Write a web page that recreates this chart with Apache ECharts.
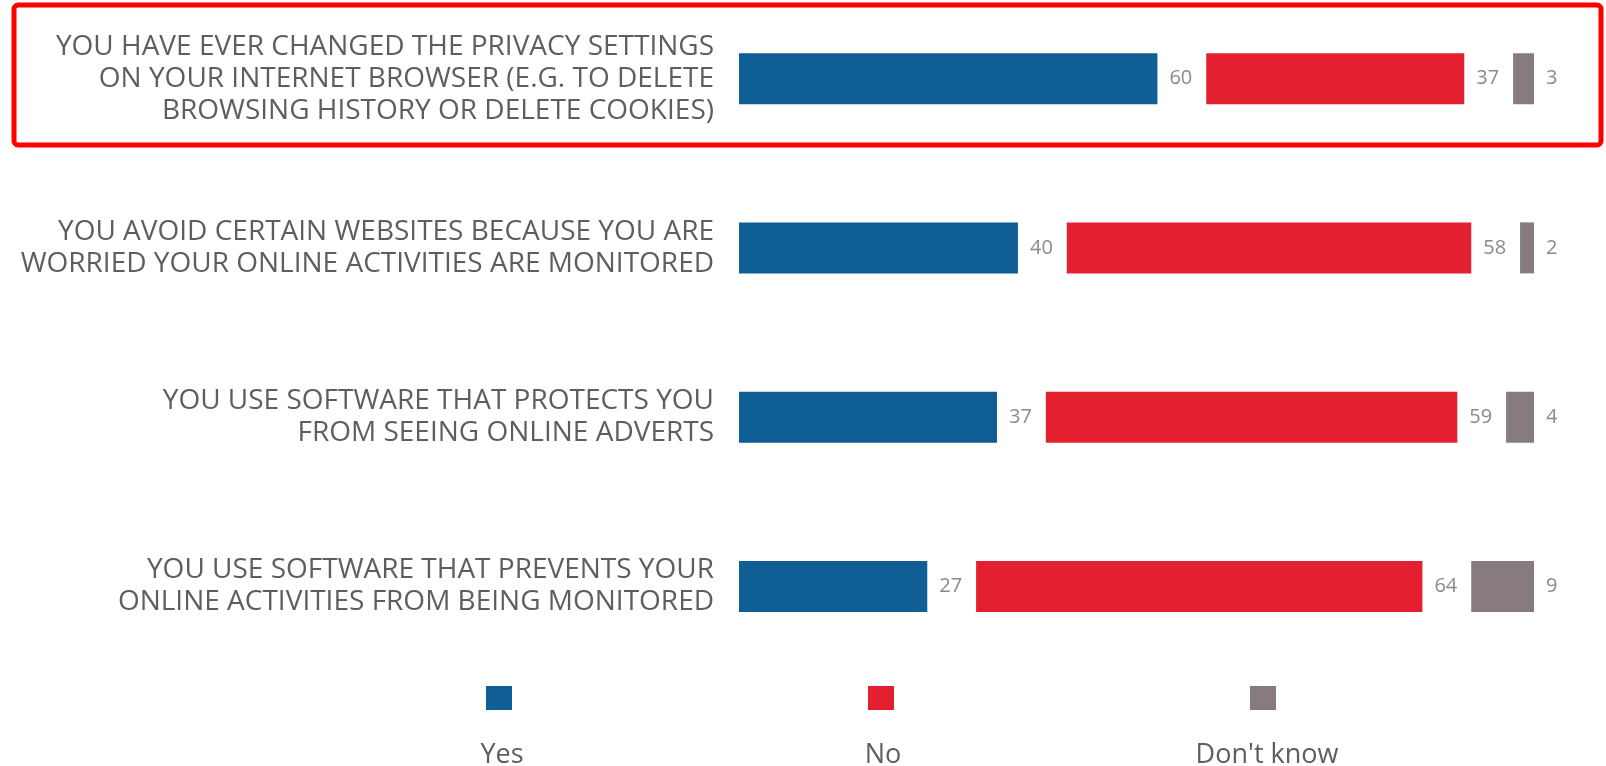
<!DOCTYPE html>
<html>
<head>
<meta charset="utf-8">
<script src="https://cdn.jsdelivr.net/npm/echarts@6/dist/echarts.min.js"></script>
<style>
    html, body { margin: 0; padding: 0; background: #fff; overflow: hidden; }
    /* shifted up a little so the first row can sit higher than the grid allows */
    #chart { position: absolute; left: 0; top: -6px; width: 1606px; height: 772px; }
</style>
</head>
<body>
<div id="chart"></div>
<script>
const categories = [
    'YOU HAVE EVER CHANGED THE PRIVACY SETTINGS\nON YOUR INTERNET BROWSER (E.G. TO DELETE\nBROWSING HISTORY OR DELETE COOKIES)',
    'YOU AVOID CERTAIN WEBSITES BECAUSE YOU ARE\nWORRIED YOUR ONLINE ACTIVITIES ARE MONITORED',
    'YOU USE SOFTWARE THAT PROTECTS YOU\nFROM SEEING ONLINE ADVERTS',
    'YOU USE SOFTWARE THAT PREVENTS YOUR\nONLINE ACTIVITIES FROM BEING MONITORED'
];
const yesValues = [60, 40, 37, 27];
const noValues = [37, 58, 59, 64];
const dontKnowValues = [3, 2, 4, 9];
const legendNames = ['Yes', 'No', "Don't know"];

// empty space between the segments, in axis units
const GAP = 7;
const gapValues = categories.map(() => GAP);

const colors = { yes: '#0f5e95', no: '#e41f2f', dk: '#877b80' };
const labelColor = '#8a8a8a';
const textColor = '#5e5e5e';
const Y0 = 6; // offset of the div

const chart = echarts.init(document.getElementById('chart'));

const valueLabel = {
    show: true,
    position: 'right',
    distance: 12,
    color: labelColor,
    fontSize: 20,
    fontFamily: 'Open Sans'
};

const spacer = (name) => ({
    name: name,
    type: 'bar',
    stack: 'total',
    data: gapValues,
    barWidth: 51,
    silent: true,
    itemStyle: { color: 'rgba(0,0,0,0)' },
    label: { show: false }
});

const legendText = (x, txt) => ({
    type: 'text', x: x, y: 755 + Y0,
    style: { text: txt, fill: textColor, fontSize: 27, fontFamily: 'Open Sans', align: 'center', verticalAlign: 'middle' }
});

chart.setOption({
    animation: false,
    grid: { left: 739, right: 72, top: 0, bottom: 95 },
    legend: {
        data: legendNames,
        left: 486,
        top: 686 + Y0,
        padding: 0,
        itemWidth: 26,
        itemHeight: 24,
        itemGap: 356,
        icon: 'rect',
        formatter: () => '',
        selectedMode: false
    },
    xAxis: { type: 'value', min: 0, max: 114, show: false },
    yAxis: {
        type: 'category',
        data: categories,
        inverse: true,
        axisLine: { show: false },
        axisTick: { show: false },
        splitLine: { show: false },
        axisLabel: {
            margin: 25,
            fontSize: 28,
            lineHeight: 32,
            padding: [8, 0, 0, 0],
            color: textColor,
            fontFamily: 'Open Sans',
            align: 'right'
        }
    },
    series: [
        { name: 'Yes', type: 'bar', stack: 'total', data: yesValues, barWidth: 51,
          itemStyle: { color: colors.yes }, label: valueLabel },
        spacer('gap1'),
        { name: 'No', type: 'bar', stack: 'total', data: noValues, barWidth: 51,
          itemStyle: { color: colors.no }, label: valueLabel },
        spacer('gap2'),
        { name: "Don't know", type: 'bar', stack: 'total', data: dontKnowValues, barWidth: 51,
          itemStyle: { color: colors.dk }, label: valueLabel }
    ],
    graphic: [
        {
            type: 'rect',
            shape: { x: 14, y: 5 + Y0, width: 1587, height: 140, r: 4 },
            style: { fill: 'none', stroke: '#ff0000', lineWidth: 5 }
        },
        legendText(502, legendNames[0]),
        legendText(883, legendNames[1]),
        legendText(1267, legendNames[2])
    ]
});
</script>
</body>
</html>
